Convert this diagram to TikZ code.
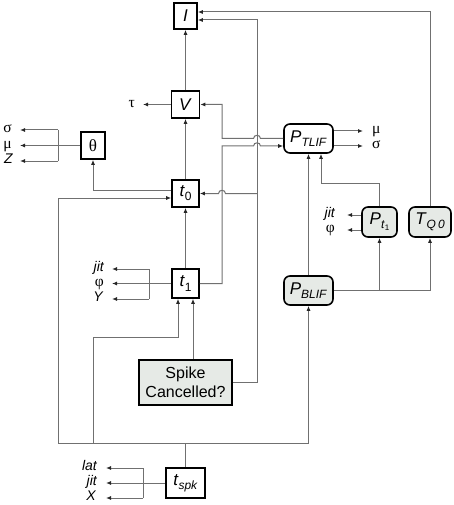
\documentclass[tikz,border=0pt]{standalone}
\usepackage{fontspec}
\setmainfont{Liberation Sans}
\newfontfamily\grk{Liberation Serif}
\usetikzlibrary{arrows.meta,calc}
\definecolor{boxgray}{RGB}{230,234,230}
\definecolor{linegray}{RGB}{112,112,112}
\newcommand{\sbs}[1]{\raisebox{-0.45ex}{\fontsize{12}{12}\selectfont #1}}
\begin{document}
\begin{tikzpicture}[x=1pt,y=-1pt,
  box/.style={draw=black,line width=1.6pt,fill=white,inner sep=0pt,font=\fontsize{17}{17}\selectfont},
  gbox/.style={box,fill=boxgray},
  rbox/.style={box,rounded corners=6pt},
  lab/.style={inner sep=0pt,text height=1.3ex,text depth=0.2ex,font=\fontsize{14}{14}\selectfont\itshape},
  glab/.style={inner sep=0pt,text height=1.3ex,text depth=0.2ex,font=\fontsize{15.5}{15.5}\selectfont\grk},
  wire/.style={draw=linegray,line width=1pt},
  arr/.style={wire,-{Latex[length=5pt,width=4pt,color=black!85]}},
]
\useasboundingbox (0,0) rectangle (454,505);
% boxes
\node[box,minimum width=23pt,minimum height=26pt] (I) at (185.5,16) {\textit{I}};
\node[box,minimum width=28pt,minimum height=27pt] (V) at (185.5,104.5) {\textit{V}};
\node[box,minimum width=27pt,minimum height=27pt] (t0) at (185.5,193.5) {\textit{t}\sbs{0}};
\node[box,minimum width=24pt,minimum height=27pt] (th) at (93,145.5) {\grk θ};
\node[box,minimum width=27pt,minimum height=29pt] (t1) at (185.5,283.5) {\textit{t}\sbs{1}};
\node[gbox,minimum width=93pt,minimum height=45pt,align=center,font=\fontsize{16}{18.5}\selectfont] (sp) at (185.5,382.5) {Spike\\Cancelled?};
\node[box,minimum width=39pt,minimum height=30pt] (ts) at (185.5,483) {\textit{t}\sbs{\textit{spk}}};
\node[rbox,minimum width=49pt,minimum height=29pt] (PT) at (308.5,138.5) {\textit{P}\sbs{\textit{TLIF}}};
\node[rbox,fill=boxgray,minimum width=35pt,minimum height=30pt] (Pt) at (379.5,222) {\textit{P}\sbs{\textit{t}\raisebox{-0.3ex}{\fontsize{8}{8}\selectfont 1}}};
\node[rbox,fill=boxgray,minimum width=42pt,minimum height=30pt] (TQ) at (430,222) {\textit{T}\sbs{\textit{Q\,0}}};
\node[rbox,fill=boxgray,minimum width=49pt,minimum height=29pt] (PB) at (308.5,290.5) {\textit{P}\sbs{\textit{BLIF}}};
% labels
\node[glab,anchor=east] (tau) at (135,104.5) {τ};
\node[glab,anchor=east] (s1) at (12,130) {σ};
\node[glab,anchor=east] (m1) at (12,145.5) {μ};
\node[lab,anchor=east] (Z) at (13,161) {Z};
\node[lab,anchor=east] (j1) at (104,269) {jit};
\node[glab,anchor=east] (f1) at (104,283.5) {φ};
\node[lab,anchor=east] (Y) at (103,299) {Y};
\node[lab,anchor=east] (la) at (97,468) {lat};
\node[lab,anchor=east] (j2) at (97,483) {jit};
\node[lab,anchor=east] (X) at (96,498) {X};
\node[glab,anchor=west] (m2) at (372,131) {μ};
\node[glab,anchor=west] (s2) at (372,146) {σ};
\node[lab,anchor=east] (j3) at (335,215) {jit};
\node[glab,anchor=east] (f3) at (335,230) {φ};
% coordinates
\coordinate (thb) at (58,145.5);
\coordinate (t1b) at (149,283.5);
\coordinate (tsb) at (143,483);
\coordinate (busL) at (58,443);
\coordinate (busA) at (93,443);
\coordinate (busM) at (ts.north |- busL);
\coordinate (busR) at (PB.south |- busL);
\coordinate (spx) at (257,382.5);
\coordinate (lx) at (222,283.5);
\coordinate (pbr) at (430,290.5);
% main column
\draw[arr] (V.north) -- (I.south);
\draw[arr] (t0.north) -- (V.south);
\draw[arr] (t1.north) -- (t0.south);
\draw[arr] ([yshift=3.5pt]t0.west) -| (th.south);
% bus from t_spk
\draw[wire] (ts.north) -- (busM);
\draw[wire] (busL) -- (busR);
\draw[arr] (busL) |- ([yshift=-4.5pt]t0.west);
\draw[arr] (busA) -- (busA |- 0,337) -| ([xshift=-7.5pt]t1.south);
\draw[arr] (busR) -- (PB.south);
% spike cancelled
\draw[arr] ([xshift=7.5pt]sp.north) -- ([xshift=7.5pt]t1.south);
\draw[arr] (sp.east) -- (spx) |- ([yshift=-4pt]I.east);
\draw[arr] (spx |- t0.east) -- (225.5,193.5) .. controls (225.5,189.3) and (218.5,189.3) .. (218.5,193.5) -- (t0.east);
% T_Q0 to I
\draw[arr] (TQ.north) |- ([yshift=4pt]I.east);
% P_TLIF to V
\draw[arr] (PT.west) -- (260.5,138.5) .. controls (260.5,134.3) and (253.5,134.3) .. (253.5,138.5) -- (222,138.5) |- (V.east);
% t1 to P_TLIF
\draw[arr] (t1.east) -- (lx) -- (222,146) -- (253.5,146) .. controls (253.5,141.8) and (260.5,141.8) .. (260.5,146) -- ([yshift=-7.5pt]PT.west);
% into P_TLIF from below
\draw[arr] (PB.north) -- (PT.south);
\draw[arr] (Pt.north) -- (Pt.north |- 0,183) -| ([xshift=12.5pt]PT.south);
% P_BLIF to P_t1 and T_Q0
\draw[wire] (PB.east) -- (pbr);
\draw[arr] (Pt.south |- pbr) -- (Pt.south);
\draw[arr] (pbr) -- (TQ.south);
% outputs
\draw[arr,shorten >=8pt] (V.west) -- (tau.east);
\draw[wire] (th.west) -- (thb);
\draw[wire] (thb |- s1.east) -- (thb |- Z.east);
\draw[arr,shorten >=8pt] (thb |- s1.east) -- (s1.east);
\draw[arr,shorten >=8pt] (thb) -- (m1.east);
\draw[arr,shorten >=7pt] (thb |- Z.east) -- (Z.east);
\draw[wire] (t1.west) -- (t1b);
\draw[wire] (t1b |- j1.east) -- (t1b |- Y.east);
\draw[arr,shorten >=8pt] (t1b |- j1.east) -- (j1.east);
\draw[arr,shorten >=8pt] (t1b) -- (f1.east);
\draw[arr,shorten >=9pt] (t1b |- Y.east) -- (Y.east);
\draw[wire] (ts.west) -- (tsb);
\draw[wire] (tsb |- la.east) -- (tsb |- X.east);
\draw[arr,shorten >=9pt] (tsb |- la.east) -- (la.east);
\draw[arr,shorten >=9pt] (tsb) -- (j2.east);
\draw[arr,shorten >=10pt] (tsb |- X.east) -- (X.east);
\draw[arr,shorten >=9pt] ([yshift=7.5pt]PT.east) -- (m2.west);
\draw[arr,shorten >=9pt] ([yshift=-7.5pt]PT.east) -- (s2.west);
\draw[arr,shorten >=12pt] ([yshift=7pt]Pt.west) -- (j3.east);
\draw[arr,shorten >=12pt] ([yshift=-8pt]Pt.west) -- (f3.east);
\end{tikzpicture}
\end{document}
